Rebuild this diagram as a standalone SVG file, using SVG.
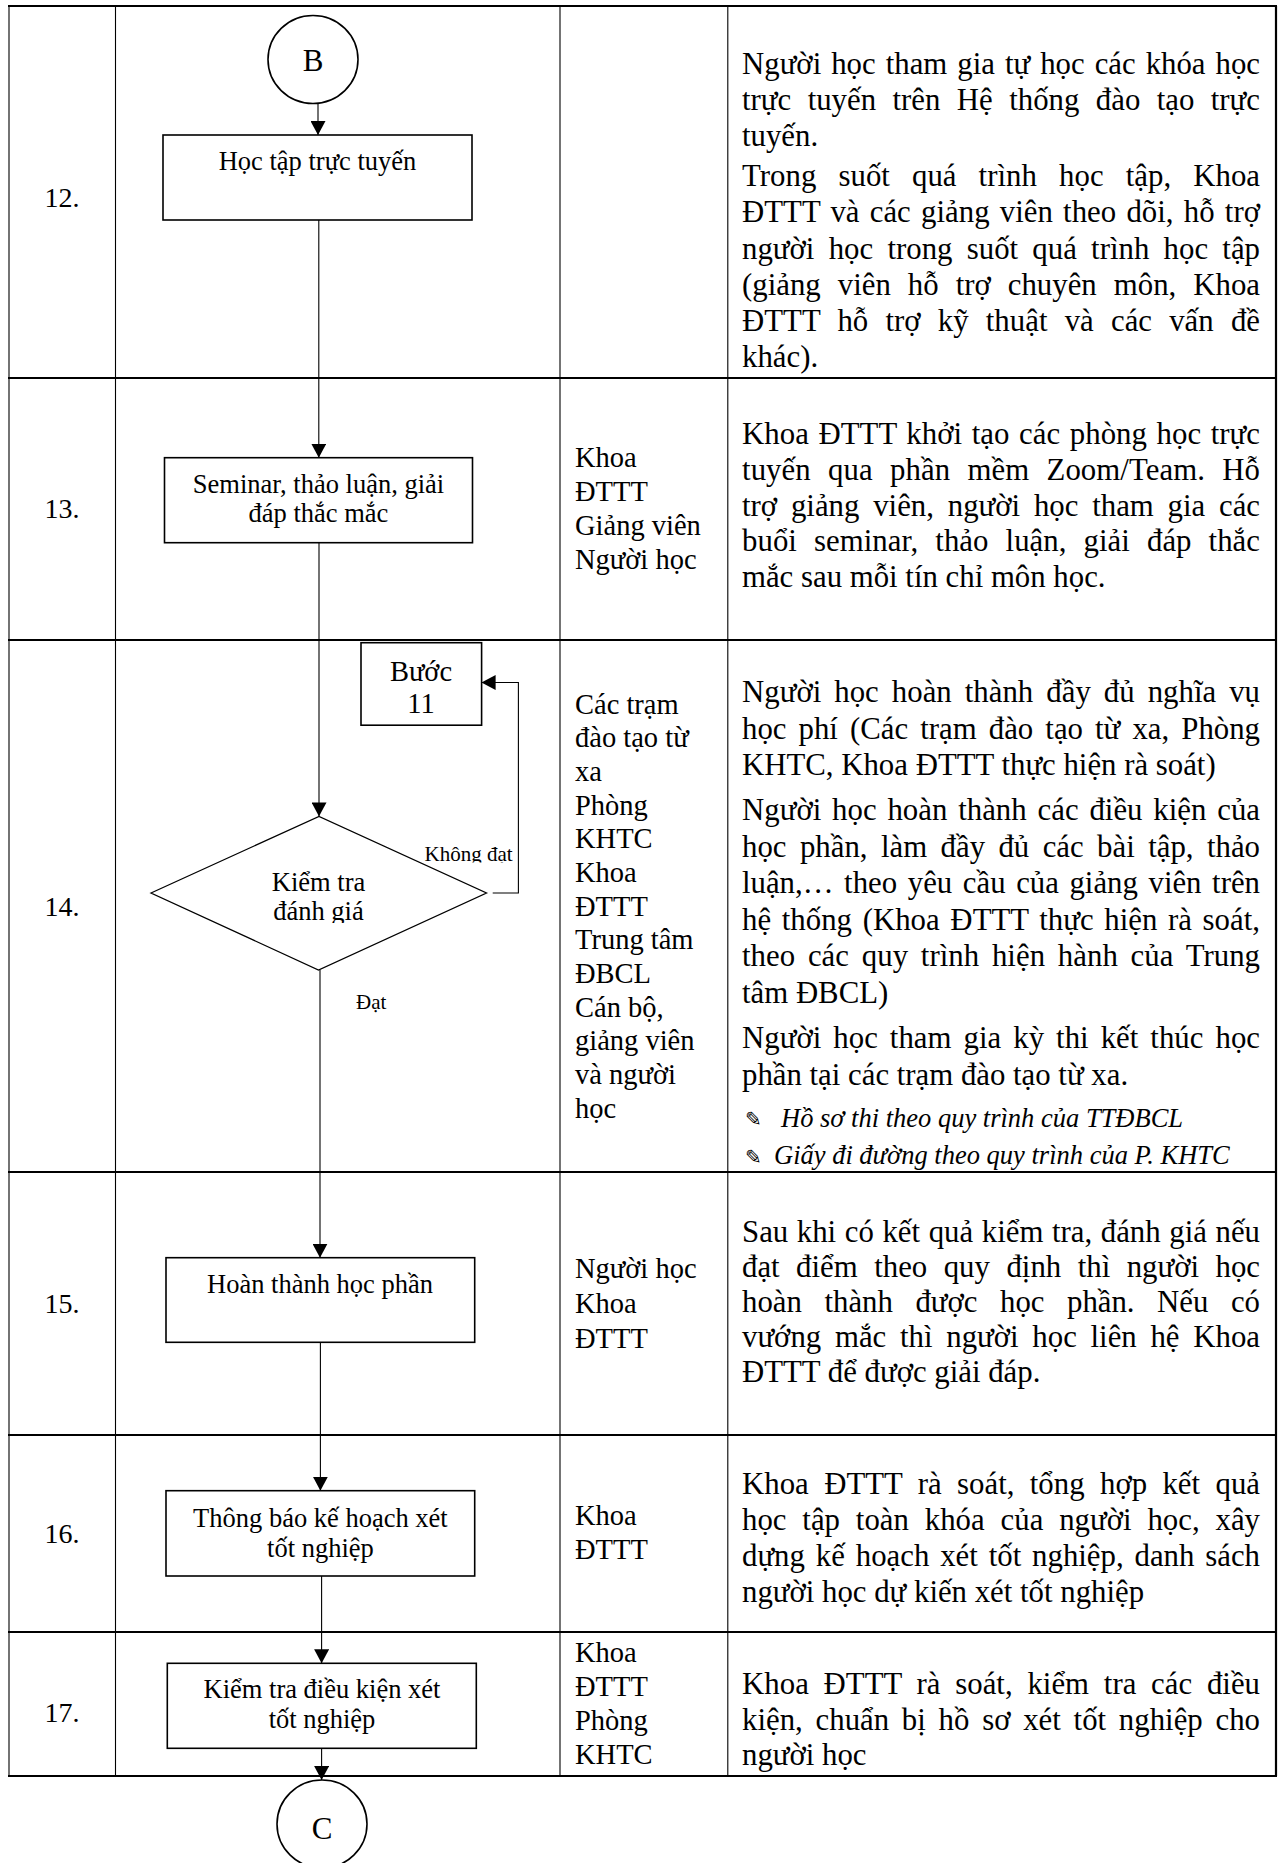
<svg xmlns="http://www.w3.org/2000/svg" width="1279" height="1863" viewBox="0 0 1279 1863">
<style>
text{font-family:"Liberation Serif","Times New Roman",serif;fill:#000}
.gh{stroke:#000;stroke-width:2.2}
.gv{stroke:#000;stroke-width:1.1}
.shape{fill:#fff;stroke:#000;stroke-width:1.6}
.conn{fill:none;stroke:#000;stroke-width:1.1}
.num{font-size:28px;text-anchor:middle}
.resp{font-size:28.5px}
.desc{font-size:30.8px}
.bx{font-size:26.5px;text-anchor:middle}
.lbl{font-size:21px}
.it{font-size:26.5px;font-style:italic}
.bul{font-family:"DejaVu Sans",sans-serif;font-size:20px}
.circ{font-size:31px;text-anchor:middle}
</style>
<defs>
<marker id="ah" markerUnits="userSpaceOnUse" markerWidth="14" markerHeight="15" refX="14" refY="7.5" orient="auto">
<path d="M0,0 L14,7.5 L0,15 z" fill="#000"/>
</marker>
<clipPath id="clipKD"><rect x="400" y="830" width="120" height="32.5"/></clipPath>
<clipPath id="clipDG"><rect x="200" y="860" width="240" height="63"/></clipPath>
<clipPath id="clipR14"><rect x="730" y="640" width="540" height="531"/></clipPath>
</defs>
<rect width="1279" height="1863" fill="#fff"/>

<g id="table">
<line class="gh" x1="8" y1="6" x2="1277" y2="6"/>
<line class="gh" x1="8" y1="378" x2="1277" y2="378"/>
<line class="gh" x1="8" y1="640" x2="1277" y2="640"/>
<line class="gh" x1="8" y1="1172" x2="1277" y2="1172"/>
<line class="gh" x1="8" y1="1435" x2="1277" y2="1435"/>
<line class="gh" x1="8" y1="1632" x2="1277" y2="1632"/>
<line class="gh" x1="8" y1="1776" x2="1277" y2="1776"/>
<line class="gv" x1="9" y1="6" x2="9" y2="1776"/>
<line class="gv" x1="115.5" y1="6" x2="115.5" y2="1776"/>
<line class="gv" x1="560" y1="6" x2="560" y2="1776"/>
<line class="gv" x1="727.8" y1="6" x2="727.8" y2="1776"/>
<line class="gh" x1="1276" y1="6" x2="1276" y2="1776"/>
</g>

<g id="numbers">
<text class="num" x="62" y="207">12.</text>
<text class="num" x="62" y="518">13.</text>
<text class="num" x="62" y="916">14.</text>
<text class="num" x="62" y="1313">15.</text>
<text class="num" x="62" y="1543">16.</text>
<text class="num" x="62" y="1722">17.</text>
</g>

<g id="connectors">
<line class="conn" x1="318" y1="103.5" x2="318" y2="135" marker-end="url(#ah)"/>
<line class="conn" x1="318.8" y1="220" x2="318.8" y2="457.7" marker-end="url(#ah)"/>
<line class="conn" x1="319" y1="542.7" x2="319" y2="816.4" marker-end="url(#ah)"/>
<path class="conn" d="M492.7,893 H518.4 V682.5 H481.6" marker-end="url(#ah)"/>
<line class="conn" x1="320" y1="970" x2="320" y2="1257.7" marker-end="url(#ah)"/>
<line class="conn" x1="320.4" y1="1342.3" x2="320.4" y2="1490.7" marker-end="url(#ah)"/>
<line class="conn" x1="321.6" y1="1576" x2="321.6" y2="1663.3" marker-end="url(#ah)"/>
<line class="conn" x1="321.6" y1="1748.3" x2="321.6" y2="1780" marker-end="url(#ah)"/>
<text class="lbl" x="424.5" y="861" clip-path="url(#clipKD)">Không đạt</text>
<text class="lbl" x="356" y="1008.6">Đạt</text>
</g>

<g id="node-B">
<ellipse class="shape" cx="313" cy="59.5" rx="45" ry="44"/>
<text class="circ" x="313" y="71">B</text>
</g>
<g id="node-12">
<rect class="shape" x="163" y="135" width="309" height="85"/>
<text class="bx" x="317.5" y="170">Học tập trực tuyến</text>
</g>
<g id="node-13">
<rect class="shape" x="164.5" y="457.7" width="308" height="85"/>
<text class="bx" x="318.5" y="492.7">Seminar, thảo luận, giải</text>
<text class="bx" x="318.5" y="521.7">đáp thắc mắc</text>
</g>
<g id="node-buoc11">
<rect class="shape" x="361" y="642.7" width="120.6" height="82.5"/>
<text class="bx" x="421" y="681" style="font-size:28.5px">Bước</text>
<text class="bx" x="421" y="713" style="font-size:28.5px">11</text>
</g>
<g id="node-14">
<polygon class="shape" points="151,893 319,816.4 486.5,893 318.5,970" style="stroke-width:1.3"/>
<g clip-path="url(#clipDG)">
<text class="bx" x="318.5" y="891.4">Kiểm tra</text>
<text class="bx" x="318.5" y="920">đánh giá</text>
</g>
</g>
<g id="node-15">
<rect class="shape" x="166" y="1257.7" width="308.7" height="84.6"/>
<text class="bx" x="320" y="1292.7">Hoàn thành học phần</text>
</g>
<g id="node-16">
<rect class="shape" x="166" y="1490.7" width="308.7" height="85.3"/>
<text class="bx" x="320.4" y="1526.7">Thông báo kế hoạch xét</text>
<text class="bx" x="320.4" y="1556.7">tốt nghiệp</text>
</g>
<g id="node-17">
<rect class="shape" x="167.3" y="1663.3" width="309" height="85"/>
<text class="bx" x="322" y="1698.3">Kiểm tra điều kiện xét</text>
<text class="bx" x="322" y="1728.3">tốt nghiệp</text>
</g>
<g id="node-C">
<ellipse class="shape" cx="322" cy="1824" rx="45" ry="44"/>
<text class="circ" x="322" y="1839">C</text>
</g>

<g id="responsibility">
<text class="resp" x="575" y="467">Khoa</text>
<text class="resp" x="575" y="501">ĐTTT</text>
<text class="resp" x="575" y="535">Giảng viên</text>
<text class="resp" x="575" y="568.5">Người học</text>

<text class="resp" x="575" y="713.5">Các trạm</text>
<text class="resp" x="575" y="747.2">đào tạo từ</text>
<text class="resp" x="575" y="780.8">xa</text>
<text class="resp" x="575" y="814.5">Phòng</text>
<text class="resp" x="575" y="848.2">KHTC</text>
<text class="resp" x="575" y="881.8">Khoa</text>
<text class="resp" x="575" y="915.5">ĐTTT</text>
<text class="resp" x="575" y="949.2">Trung tâm</text>
<text class="resp" x="575" y="982.9">ĐBCL</text>
<text class="resp" x="575" y="1016.5">Cán bộ,</text>
<text class="resp" x="575" y="1050.2">giảng viên</text>
<text class="resp" x="575" y="1083.9">và người</text>
<text class="resp" x="575" y="1117.5">học</text>

<text class="resp" x="575" y="1278.3">Người học</text>
<text class="resp" x="575" y="1313">Khoa</text>
<text class="resp" x="575" y="1347.5">ĐTTT</text>

<text class="resp" x="575" y="1525">Khoa</text>
<text class="resp" x="575" y="1558.5">ĐTTT</text>

<text class="resp" x="575" y="1662">Khoa</text>
<text class="resp" x="575" y="1696">ĐTTT</text>
<text class="resp" x="575" y="1730">Phòng</text>
<text class="resp" x="575" y="1763.5">KHTC</text>
</g>

<g id="descriptions">
<text class="desc" x="742" y="74" textLength="518" lengthAdjust="spacing" word-spacing="2.3">Người học tham gia tự học các khóa học</text>
<text class="desc" x="742" y="110" textLength="518" lengthAdjust="spacing" word-spacing="8.7">trực tuyến trên Hệ thống đào tạo trực</text>
<text class="desc" x="742" y="146">tuyến.</text>
<text class="desc" x="742" y="186" textLength="518" lengthAdjust="spacing" word-spacing="14.3">Trong suốt quá trình học tập, Khoa</text>
<text class="desc" x="742" y="222" textLength="518" lengthAdjust="spacing" word-spacing="2.5">ĐTTT và các giảng viên theo dõi, hỗ trợ</text>
<text class="desc" x="742" y="258.5" textLength="518" lengthAdjust="spacing" word-spacing="6.5">người học trong suốt quá trình học tập</text>
<text class="desc" x="742" y="294.5" textLength="518" lengthAdjust="spacing" word-spacing="9.3">(giảng viên hỗ trợ chuyên môn, Khoa</text>
<text class="desc" x="742" y="331" textLength="518" lengthAdjust="spacing" word-spacing="9.4">ĐTTT hỗ trợ kỹ thuật và các vấn đề</text>
<text class="desc" x="742" y="367">khác).</text>

<text class="desc" x="742" y="444" textLength="518" lengthAdjust="spacing" word-spacing="1.9">Khoa ĐTTT khởi tạo các phòng học trực</text>
<text class="desc" x="742" y="480" textLength="518" lengthAdjust="spacing" word-spacing="9.5">tuyến qua phần mềm Zoom/Team. Hỗ</text>
<text class="desc" x="742" y="515.5" textLength="518" lengthAdjust="spacing" word-spacing="6">trợ giảng viên, người học tham gia các</text>
<text class="desc" x="742" y="551" textLength="518" lengthAdjust="spacing" word-spacing="9.3">buổi seminar, thảo luận, giải đáp thắc</text>
<text class="desc" x="742" y="586.5">mắc sau mỗi tín chỉ môn học.</text>

<g clip-path="url(#clipR14)">
<text class="desc" x="742" y="702" textLength="518" lengthAdjust="spacing" word-spacing="5.3">Người học hoàn thành đầy đủ nghĩa vụ</text>
<text class="desc" x="742" y="738.5" textLength="518" lengthAdjust="spacing" word-spacing="4.4">học phí (Các trạm đào tạo từ xa, Phòng</text>
<text class="desc" x="742" y="775">KHTC, Khoa ĐTTT thực hiện rà soát)</text>
<text class="desc" x="742" y="820" textLength="518" lengthAdjust="spacing" word-spacing="3.1">Người học hoàn thành các điều kiện của</text>
<text class="desc" x="742" y="856.5" textLength="518" lengthAdjust="spacing" word-spacing="5.7">học phần, làm đầy đủ các bài tập, thảo</text>
<text class="desc" x="742" y="893" textLength="518" lengthAdjust="spacing" word-spacing="2.9">luận,… theo yêu cầu của giảng viên trên</text>
<text class="desc" x="742" y="929.5" textLength="518" lengthAdjust="spacing" word-spacing="2.9">hệ thống (Khoa ĐTTT thực hiện rà soát,</text>
<text class="desc" x="742" y="966" textLength="518" lengthAdjust="spacing" word-spacing="5">theo các quy trình hiện hành của Trung</text>
<text class="desc" x="742" y="1002.5">tâm ĐBCL)</text>
<text class="desc" x="742" y="1048" textLength="518" lengthAdjust="spacing" word-spacing="4.3">Người học tham gia kỳ thi kết thúc học</text>
<text class="desc" x="742" y="1084.5">phần tại các trạm đào tạo từ xa.</text>
<text class="bul" x="745" y="1126">✎</text>
<text class="it" x="781" y="1126.5">Hồ sơ thi theo quy trình của TTĐBCL</text>
<text class="bul" x="745" y="1163.5">✎</text>
<text class="it" x="774" y="1164">Giấy đi đường theo quy trình của P. KHTC</text>
</g>

<text class="desc" x="742" y="1242" textLength="518" lengthAdjust="spacing" word-spacing="0.9">Sau khi có kết quả kiểm tra, đánh giá nếu</text>
<text class="desc" x="742" y="1277" textLength="518" lengthAdjust="spacing" word-spacing="8.7">đạt điểm theo quy định thì người học</text>
<text class="desc" x="742" y="1312" textLength="518" lengthAdjust="spacing" word-spacing="14.8">hoàn thành được học phần. Nếu có</text>
<text class="desc" x="742" y="1347" textLength="518" lengthAdjust="spacing" word-spacing="6">vướng mắc thì người học liên hệ Khoa</text>
<text class="desc" x="742" y="1382">ĐTTT để được giải đáp.</text>

<text class="desc" x="742" y="1494" textLength="518" lengthAdjust="spacing" word-spacing="7.6">Khoa ĐTTT rà soát, tổng hợp kết quả</text>
<text class="desc" x="742" y="1530" textLength="518" lengthAdjust="spacing" word-spacing="8.1">học tập toàn khóa của người học, xây</text>
<text class="desc" x="742" y="1566" textLength="518" lengthAdjust="spacing" word-spacing="3.2">dựng kế hoạch xét tốt nghiệp, danh sách</text>
<text class="desc" x="742" y="1602">người học dự kiến xét tốt nghiệp</text>

<text class="desc" x="742" y="1693.5" textLength="518" lengthAdjust="spacing" word-spacing="7">Khoa ĐTTT rà soát, kiểm tra các điều</text>
<text class="desc" x="742" y="1729.5" textLength="518" lengthAdjust="spacing" word-spacing="5">kiện, chuẩn bị hồ sơ xét tốt nghiệp cho</text>
<text class="desc" x="742" y="1765">người học</text>
</g>
</svg>
